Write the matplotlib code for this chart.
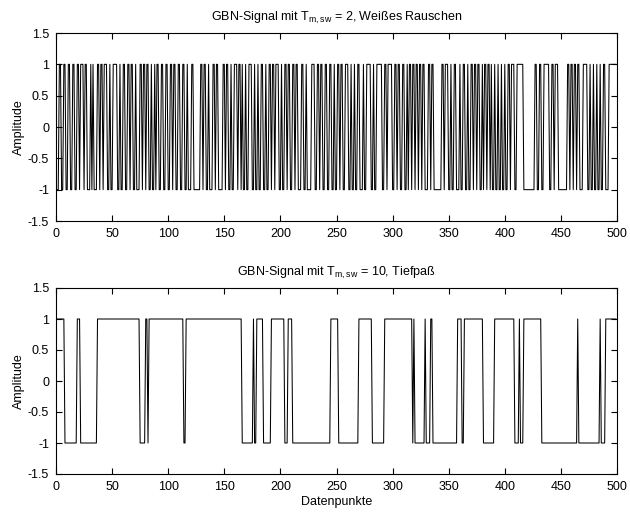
import numpy as np
import matplotlib
matplotlib.use("Agg")
import matplotlib.pyplot as plt

plt.rcParams['font.family'] = ['Liberation Sans', 'DejaVu Sans']
plt.rcParams['mathtext.default'] = 'regular'

# Top signal (white noise GBN, T_m,sw = 2): run lengths, alternating, starting at -1
top_start = -1
top_runs = [
    3, 2, 2, 2, 2, 2, 2, 2, 2, 2, 1, 3, 1, 2, 3, 1, 1, 1, 3, 2, 1, 2, 1, 3, 2, 1, 2, 4, 2, 1,
    2, 2, 2, 2, 1, 2, 2, 1, 3, 2, 1, 2, 1, 2, 2, 1, 2, 1, 1, 2, 2, 2, 2, 2, 2, 2, 1, 2, 2, 2,
    2, 2, 2, 1, 3, 2,
    6, 2, 1, 2, 2, 1, 3, 2, 1, 2, 4, 2, 1, 2, 2, 1, 2, 3, 1, 2, 1, 1, 2, 1, 2, 3, 2, 1, 2, 1,
    2, 2,
    2, 1, 2, 2, 1, 2, 1, 3, 2, 1, 2, 2, 1, 2, 2, 2, 1, 2, 3, 2, 2, 1, 4, 3, 2, 2, 1, 2, 2, 2,
    2, 2, 2,
    1, 2, 2, 1, 2, 2, 3, 2, 1, 2, 1, 2, 2, 3, 1, 2, 4, 2, 1, 2, 5, 2, 2, 1, 4, 2, 2, 1, 2, 2,
    2,
    2, 1, 1, 2, 1, 2, 1, 2, 1, 2, 1, 2, 3, 2, 1, 2, 7, 2, 1, 3, 2, 1, 2, 2, 3, 1, 2, 2, 2, 1,
    2, 2, 1,
    2, 1, 2, 2, 1, 1, 2, 1, 2, 1, 1, 2, 1, 2, 1, 2, 1, 2, 1, 2, 2, 1, 3, 2, 6, 10, 2, 2, 2, 2,
    5, 2, 2, 1, 3, 8, 2, 1, 2, 1, 2, 1, 2, 3, 4, 2, 1, 2, 1, 2, 1, 2, 1, 2, 2, 3, 7,
]

# Bottom signal (low-pass GBN, T_m,sw = 10): run lengths, alternating, starting at +1
bot_start = 1
bot_runs = [8, 11, 3, 15, 38, 5, 2, 1, 31, 2, 50, 10, 1, 2, 6, 7, 12, 3, 4, 34, 7, 18, 12,
            11, 25, 1, 1, 9, 1, 4, 2, 22, 4, 2, 17, 10, 18, 4, 1, 3, 16, 32, 1, 19, 1, 4, 10]

xticks = [0, 50, 100, 150, 200, 250, 300, 350, 400, 450, 500]
yticks = [-1.5, -1, -0.5, 0, 0.5, 1, 1.5]
yticklabels = ['-1.5', '-1', '-0.5', '0', '0.5', '1', '1.5']


def expand(start, runs):
    vals = []
    v = start
    for r in runs:
        vals.extend([v] * r)
        v = -v
    return np.array(vals[:500], dtype=float)


top_sig = expand(top_start, top_runs)
bot_sig = expand(bot_start, bot_runs)

fig = plt.figure(figsize=(6.3, 5.13), dpi=100)
W, H = 630, 513
ax1 = fig.add_axes([56 / W, 1 - 221 / H, 561 / W, 188 / H])
ax2 = fig.add_axes([56 / W, 1 - 474 / H, 561 / W, 186 / H])

for ax, sig, title in [
    (ax1, top_sig, r'GBN-Signal mit T$_{m,sw}$ = 2, Weißes Rauschen'),
    (ax2, bot_sig, r'GBN-Signal mit T$_{m,sw}$ = 10, Tiefpaß'),
]:
    ax.plot(np.arange(len(sig)), sig, color='black', linewidth=0.75)
    ax.set_xlim(0, 500)
    ax.set_ylim(-1.5, 1.5)
    ax.set_xticks(xticks)
    ax.set_yticks(yticks)
    ax.set_yticklabels(yticklabels)
    ax.tick_params(direction='in', top=True, right=True, labelsize=9, length=4, width=0.8)
    ax.tick_params(axis='x', pad=5)
    ax.tick_params(axis='y', pad=5)
    ax.set_ylabel('Amplitude', fontsize=9, labelpad=2)
    ax.set_title(title, fontsize=9, pad=9)
    for s in ax.spines.values():
        s.set_linewidth(0.8)

ax2.set_xlabel('Datenpunkte', fontsize=9, labelpad=2)

fig.savefig('out.png', dpi=100)
